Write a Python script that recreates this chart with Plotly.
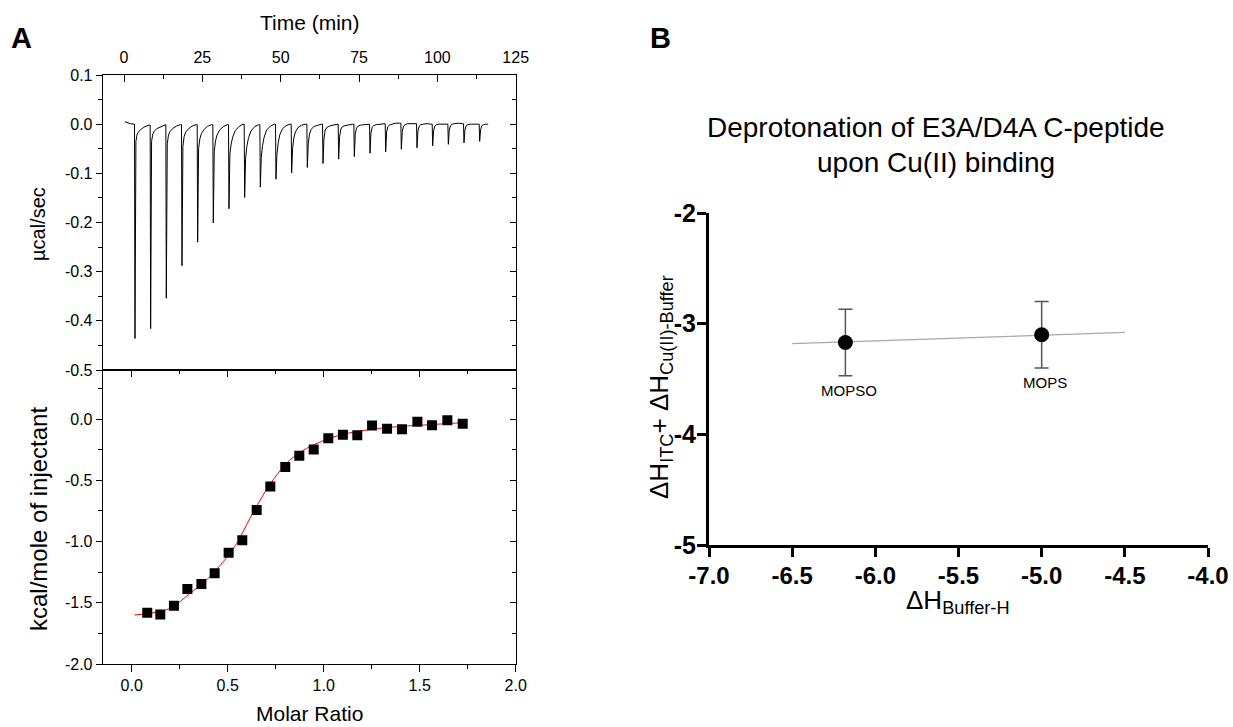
import plotly.graph_objects as go

W, H = 1233, 727
FONT = "Arial, Liberation Sans, sans-serif"

# ---------------- Panel A, top: raw ITC thermogram ----------------
injection_time = [3.5, 8.5, 13.5, 18.5, 23.5, 28.5, 33.5, 38.5, 43.5, 48.5, 53.5, 58.5,
                  63.5, 68.5, 73.5, 78.5, 83.5, 88.5, 93.5, 98.5, 103.5, 108.5, 113.5]
peak_depth = [-0.436, -0.416, -0.354, -0.288, -0.240, -0.201, -0.172, -0.149, -0.128, -0.112,
              -0.099, -0.088, -0.080, -0.071, -0.066, -0.059, -0.056, -0.051, -0.048, -0.044,
              -0.041, -0.038, -0.035]
recovery_offset = [0.3, 0.7, 1.2, 2.0, 3.2, 4.5]
recovery_value = [
    [-0.035, -0.020, -0.015, -0.010, -0.005, -0.002],
    [-0.035, -0.020, -0.014, -0.009, -0.005, -0.001],
    [-0.040, -0.022, -0.015, -0.009, -0.004, -0.001],
    [-0.045, -0.025, -0.016, -0.010, -0.004, -0.001],
    [-0.050, -0.030, -0.019, -0.011, -0.004, -0.001],
    [-0.055, -0.034, -0.022, -0.012, -0.005, -0.001],
    [-0.060, -0.040, -0.026, -0.013, -0.005, 0.000],
    [-0.070, -0.045, -0.029, -0.014, -0.005, -0.001],
    [-0.068, -0.044, -0.027, -0.012, -0.004, 0.000],
    [-0.062, -0.038, -0.022, -0.010, -0.003, 0.000],
    [-0.050, -0.028, -0.016, -0.007, -0.002, 0.000],
    [-0.040, -0.020, -0.011, -0.005, -0.002, 0.000],
    [-0.030, -0.012, -0.007, -0.004, -0.002, 0.000],
    [-0.025, -0.010, -0.005, -0.003, -0.001, 0.000],
    [-0.020, -0.008, -0.004, -0.002, -0.001, 0.000],
    [-0.018, -0.006, -0.003, -0.001, 0.000, 0.001],
    [-0.016, -0.005, -0.002, 0.000, 0.002, 0.002],
    [-0.015, -0.004, -0.001, 0.001, 0.001, 0.001],
    [-0.014, -0.004, -0.001, 0.000, 0.001, 0.000],
    [-0.013, -0.004, -0.001, 0.000, 0.000, 0.000],
    [-0.012, -0.003, 0.000, 0.001, 0.002, 0.001],
    [-0.012, -0.003, -0.001, 0.000, 0.000, 0.000],
    [-0.011, -0.003, -0.001, 0.000, 0.000, 0.000],
]
baseline_start_time = [0.3, 1.0, 2.0, 3.2]
baseline_start_value = [0.005, 0.003, 0.001, 0.000]
trace_end_time = 116.2

time_ticks = [0, 25, 50, 75, 100, 125]
time_ticktext = ["0", "25", "50", "75", "100", "125"]
power_ticks = [-0.5, -0.4, -0.3, -0.2, -0.1, 0.0, 0.1]
power_ticktext = ["-0.5", "-0.4", "-0.3", "-0.2", "-0.1", "0.0", "0.1"]

# ---------------- Panel A, bottom: integrated heats ----------------
molar_ratio = [0.081, 0.149, 0.220, 0.290, 0.363, 0.432, 0.505, 0.576, 0.651, 0.722, 0.800, 0.873,
               0.948, 1.024, 1.100, 1.175, 1.252, 1.330, 1.408, 1.488, 1.564, 1.644, 1.724]
heat = [-1.581, -1.595, -1.524, -1.388, -1.347, -1.260, -1.091, -0.990, -0.743, -0.550, -0.392,
        -0.299, -0.248, -0.158, -0.128, -0.133, -0.054, -0.079, -0.084, -0.022, -0.052, -0.011, -0.038]
fit_ratio = [0.014, 0.10, 0.20, 0.304, 0.390, 0.477, 0.547, 0.616, 0.685, 0.755, 0.824, 0.911,
             0.998, 1.085, 1.172, 1.259, 1.345, 1.432, 1.519, 1.606, 1.724]
fit_heat = [-1.600, -1.585, -1.545, -1.423, -1.314, -1.165, -1.015, -0.811, -0.620, -0.457, -0.335,
            -0.240, -0.177, -0.131, -0.103, -0.082, -0.068, -0.057, -0.049, -0.041, -0.030]
ratio_ticks = [0.0, 0.5, 1.0, 1.5, 2.0]
ratio_ticktext = ["0.0", "0.5", "1.0", "1.5", "2.0"]
heat_ticks = [-2.0, -1.5, -1.0, -0.5, 0.0]
heat_ticktext = ["-2.0", "-1.5", "-1.0", "-0.5", "0.0"]

# ---------------- Panel B ----------------
buffer_names = ["MOPSO", "MOPS"]
dH_buffer = [-6.18, -5.00]
dH_total = [-3.17, -3.10]
dH_error = [0.30, 0.30]
line_x = [-6.5, -4.5]
line_y = [-3.181, -3.079]
b_xticks = [-7.0, -6.5, -6.0, -5.5, -5.0, -4.5, -4.0]
b_xticktext = ["-7.0", "-6.5", "-6.0", "-5.5", "-5.0", "-4.5", "-4.0"]
b_yticks = [-5, -4, -3, -2]
b_yticktext = ["-5", "-4", "-3", "-2"]


def px(xp):
    return xp / W


def py(yp):
    return 1 - yp / H


# build thermogram polyline from read values
t_raw = list(baseline_start_time)
p_raw = list(baseline_start_value)
for t0, d, rec in zip(injection_time, peak_depth, recovery_value):
    t_raw.append(t0 - 0.15)
    p_raw.append(p_raw[-1])
    t_raw.append(t0)
    p_raw.append(d)
    for off, v in zip(recovery_offset, rec):
        if t0 + off <= trace_end_time:
            t_raw.append(t0 + off)
            p_raw.append(v)
t_raw.append(trace_end_time)
p_raw.append(p_raw[-1])

fig = go.Figure()

fig.add_trace(go.Scatter(x=t_raw, y=p_raw, mode="lines", line=dict(color="black", width=1),
                         xaxis="x", yaxis="y", showlegend=False, hoverinfo="skip"))
fig.add_trace(go.Scatter(x=fit_ratio, y=fit_heat, mode="lines", line=dict(color="red", width=1, shape="spline"),
                         xaxis="x2", yaxis="y2", showlegend=False))
fig.add_trace(go.Scatter(x=molar_ratio, y=heat, mode="markers",
                         marker=dict(symbol="square", size=10, color="black"),
                         xaxis="x2", yaxis="y2", showlegend=False))
# dummy traces for tick-only overlay axes
fig.add_trace(go.Scatter(x=[], y=[], xaxis="x", yaxis="y3", showlegend=False))
fig.add_trace(go.Scatter(x=[], y=[], xaxis="x4", yaxis="y4", showlegend=False))

# panel B
fig.add_trace(go.Scatter(x=line_x, y=line_y, mode="lines", line=dict(color="#a8a8a8", width=1.3),
                         xaxis="x5", yaxis="y5", showlegend=False))
fig.add_trace(go.Scatter(x=dH_buffer, y=dH_total, mode="markers",
                         marker=dict(symbol="circle", size=15, color="black"),
                         error_y=dict(type="data", array=dH_error, color="#555555", thickness=1.5, width=7),
                         xaxis="x5", yaxis="y5", showlegend=False, cliponaxis=False))

xA = [px(102.7), px(515.7)]
yTop = [py(370), py(75)]
yBot = [py(664), py(370)]
tickfontA = dict(family=FONT, size=16, color="black")
common = dict(showgrid=False, zeroline=False, linecolor="black", linewidth=1, tickcolor="black",
              automargin=False)

layout = dict(
    width=W, height=H, margin=dict(l=0, r=0, t=0, b=0, pad=0, autoexpand=False),
    autosize=False,
    paper_bgcolor="white", plot_bgcolor="white",
    font=dict(family=FONT, color="black"),
    xaxis=dict(domain=xA, anchor="y", side="top", range=[-6.8, 125],
               tickvals=time_ticks, ticktext=time_ticktext, ticks="inside", ticklen=7, tickwidth=1,
               minor=dict(ticks="inside", ticklen=4, tick0=12.5, dtick=25, tickcolor="black"),
               showline=True, mirror=True, tickfont=tickfontA, ticklabelstandoff=5, **common),
    yaxis=dict(domain=yTop, anchor="x", range=[-0.5, 0.1],
               tickvals=power_ticks, ticktext=power_ticktext, ticks="outside", ticklen=6, tickwidth=1,
               minor=dict(ticks="outside", ticklen=4, tick0=0.05, dtick=0.1, tickcolor="black"),
               showline=True, mirror=True, tickfont=tickfontA, **common),
    yaxis3=dict(overlaying="y", anchor="x", side="right", range=[-0.5, 0.1],
                tickvals=power_ticks, ticks="inside", ticklen=6, showticklabels=False,
                minor=dict(ticks="inside", ticklen=4, tick0=0.05, dtick=0.1, tickcolor="black"),
                showline=False, **common),
    xaxis2=dict(domain=xA, anchor="y2", side="bottom", range=[-0.151, 2.0],
                tickvals=ratio_ticks, ticktext=ratio_ticktext, ticks="outside", ticklen=7, tickwidth=1,
                minor=dict(ticks="outside", ticklen=4, tick0=0.25, dtick=0.5, tickcolor="black"),
                showline=True, mirror=True, tickfont=tickfontA, **common),
    yaxis2=dict(domain=yBot, anchor="x2", range=[-2.0, 0.4],
                tickvals=heat_ticks, ticktext=heat_ticktext, ticks="outside", ticklen=6, tickwidth=1,
                minor=dict(ticks="outside", ticklen=4, tick0=0.25, dtick=0.5, tickcolor="black"),
                showline=True, mirror=True, tickfont=tickfontA, **common),
    xaxis4=dict(overlaying="x2", anchor="y2", side="top", range=[-0.151, 2.0],
                tickvals=ratio_ticks, ticks="inside", ticklen=7, showticklabels=False,
                minor=dict(ticks="inside", ticklen=4, tick0=0.25, dtick=0.5, tickcolor="black"),
                showline=False, **common),
    yaxis4=dict(overlaying="y2", anchor="x2", side="right", range=[-2.0, 0.4],
                tickvals=heat_ticks, ticks="inside", ticklen=6, showticklabels=False,
                minor=dict(ticks="inside", ticklen=4, tick0=0.25, dtick=0.5, tickcolor="black"),
                showline=False, **common),
    xaxis5=dict(domain=[px(709), px(1208)], anchor="y5", range=[-7.0, -4.0],
                tickvals=b_xticks, ticktext=b_xticktext, ticks="outside", ticklen=9, tickwidth=3,
                showline=True, linewidth=3, linecolor="black", tickcolor="black",
                showgrid=False, zeroline=False, automargin=False, ticklabelstandoff=-2,
                tickfont=dict(family=FONT, size=24, color="black", weight="bold")),
    yaxis5=dict(domain=[py(545), py(213)], anchor="x5", range=[-5.0, -2.0],
                tickvals=b_yticks, ticktext=b_yticktext, ticks="outside", ticklen=9, tickwidth=3,
                showline=True, linewidth=3, linecolor="black", tickcolor="black",
                showgrid=False, zeroline=False, automargin=False, ticklabelstandoff=-4,
                tickfont=dict(family=FONT, size=25, color="black", weight="bold")),
)
fig.update_layout(**layout)

ann = []


def add_text(text, xp, yp, size, bold=False, angle=0):
    ann.append(dict(text=text, x=px(xp), y=py(yp), xref="paper", yref="paper",
                    xanchor="center", yanchor="middle", showarrow=False, textangle=angle,
                    font=dict(family=FONT, size=size, color="black", weight="bold" if bold else "normal")))


add_text("A", 21, 38, 29, bold=True)
add_text("B", 660, 38, 29, bold=True)
add_text("Time (min)", 310, 22, 21)
add_text("Molar Ratio", 309, 713, 21)
add_text("µcal/sec", 38, 224, 20, angle=-90)
add_text("kcal/mole of injectant", 38, 519, 24, angle=-90)
add_text("Deprotonation of E3A/D4A C-peptide", 936, 128, 28)
add_text("upon Cu(II) binding", 936, 162, 28)
add_text("ΔH<sub>ITC</sub>+ ΔH<sub>Cu(II)-Buffer</sub>", 660, 387, 26, angle=-90)
add_text("ΔH<sub>Buffer-H</sub>", 958, 601, 26)

for name, xv, yv in zip(buffer_names, dH_buffer, dH_total):
    ann.append(dict(text=name, x=xv + 0.02, y=yv - 0.43, xref="x5", yref="y5", showarrow=False,
                    xanchor="center", yanchor="middle",
                    font=dict(family=FONT, size=15, color="black")))

fig.update_layout(annotations=ann)
fig.write_html("out.html")
